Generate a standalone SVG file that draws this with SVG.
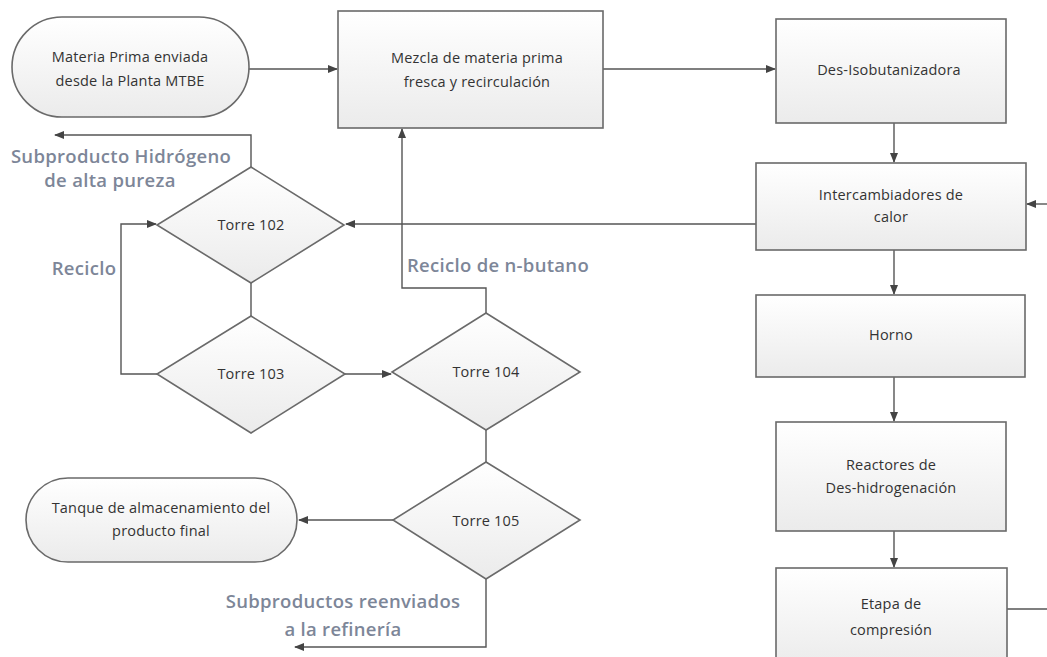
<svg xmlns="http://www.w3.org/2000/svg" width="1047" height="657" viewBox="0 0 1047 657">
<defs>
<linearGradient id="g" x1="0" y1="0" x2="0" y2="1"><stop offset="0" stop-color="#ffffff"/><stop offset="1" stop-color="#ebebeb"/></linearGradient>
<marker id="ah" markerWidth="10" markerHeight="8" refX="9" refY="4" orient="auto" markerUnits="userSpaceOnUse"><path d="M0,0 L10,4 L0,8 Z" fill="#444"/></marker>
<style>
.n{fill:url(#g);stroke:#6a6a6a;stroke-width:1.6}
.t{font-family:"Open Sans",sans-serif;font-size:14.5px;letter-spacing:0.2px;fill:#333;text-anchor:middle}
.c{fill:none;stroke:#555;stroke-width:1.4}
.a{marker-end:url(#ah)}
.l{font-family:"Open Sans",sans-serif;font-size:18.5px;letter-spacing:0.3px;font-weight:600;fill:#7d8698;text-anchor:middle}
</style>
</defs>
<rect width="1047" height="657" fill="#ffffff"/>
<g id="connectors">
<path class="c a" d="M249,69 H337"/>
<path class="c a" d="M603,69 H775"/>
<path class="c a" d="M894,123 V162"/>
<path class="c a" d="M1047,204 H1027"/>
<path class="c a" d="M756,224 H346"/>
<path class="c a" d="M894,250 V294"/>
<path class="c a" d="M894,377 V421"/>
<path class="c a" d="M894,531 V567"/>
<path class="c" d="M1007,609 H1047"/>
<path class="c a" d="M251,167 V135 H55"/>
<path class="c" d="M251,283 V316"/>
<path class="c a" d="M157,374 H121 V224 H156"/>
<path class="c a" d="M345,374 H391"/>
<path class="c a" d="M486,313 V288 H402 V129"/>
<path class="c" d="M486,430 V462"/>
<path class="c a" d="M393,520 H299"/>
<path class="c a" d="M486,579 V647 H295"/>
</g>
<g id="materia-prima">
<rect class="n" x="12" y="17" width="237" height="100" rx="50" ry="50"/>
<text class="t" x="130" y="62">Materia Prima enviada</text>
<text class="t" x="130" y="86">desde la Planta MTBE</text>
</g>
<g id="mezcla">
<rect class="n" x="338" y="11" width="265" height="117"/>
<text class="t" x="477" y="63">Mezcla de materia prima</text>
<text class="t" x="477" y="87">fresca y recirculación</text>
</g>
<g id="des-isobutanizadora">
<rect class="n" x="776" y="19" width="230" height="104"/>
<text class="t" x="889" y="75">Des-Isobutanizadora</text>
</g>
<g id="intercambiadores">
<rect class="n" x="756" y="163" width="270" height="87"/>
<text class="t" x="891" y="200">Intercambiadores de</text>
<text class="t" x="891" y="222">calor</text>
</g>
<g id="horno">
<rect class="n" x="756" y="295" width="269" height="82"/>
<text class="t" x="891" y="340">Horno</text>
</g>
<g id="reactores">
<rect class="n" x="776" y="422" width="230" height="109"/>
<text class="t" x="891" y="470">Reactores de</text>
<text class="t" x="891" y="493">Des-hidrogenación</text>
</g>
<g id="etapa-compresion">
<rect class="n" x="776" y="568" width="231" height="100"/>
<text class="t" x="891" y="609">Etapa de</text>
<text class="t" x="891" y="635">compresión</text>
</g>
<g id="torre-102">
<polygon class="n" points="251,167 344,225 251,283 157,225"/>
<text class="t" x="251" y="230">Torre 102</text>
</g>
<g id="torre-103">
<polygon class="n" points="251,316 345,374 251,433 157,374"/>
<text class="t" x="251" y="379">Torre 103</text>
</g>
<g id="torre-104">
<polygon class="n" points="486,313 580,372 486,430 392,372"/>
<text class="t" x="486" y="377">Torre 104</text>
</g>
<g id="torre-105">
<polygon class="n" points="486,462 580,520 486,579 393,520"/>
<text class="t" x="486" y="526">Torre 105</text>
</g>
<g id="tanque">
<rect class="n" x="26" y="478" width="271" height="84" rx="42" ry="42"/>
<text class="t" x="161" y="513">Tanque de almacenamiento del</text>
<text class="t" x="161" y="536">producto final</text>
</g>
<g id="labels">
<text class="l" x="121" y="163">Subproducto Hidrógeno</text>
<text class="l" x="110" y="187">de alta pureza</text>
<text class="l" x="84" y="275">Reciclo</text>
<text class="l" x="498" y="272">Reciclo de n-butano</text>
<text class="l" x="343" y="608">Subproductos reenviados</text>
<text class="l" x="343" y="636">a la refinería</text>
</g>
</svg>
